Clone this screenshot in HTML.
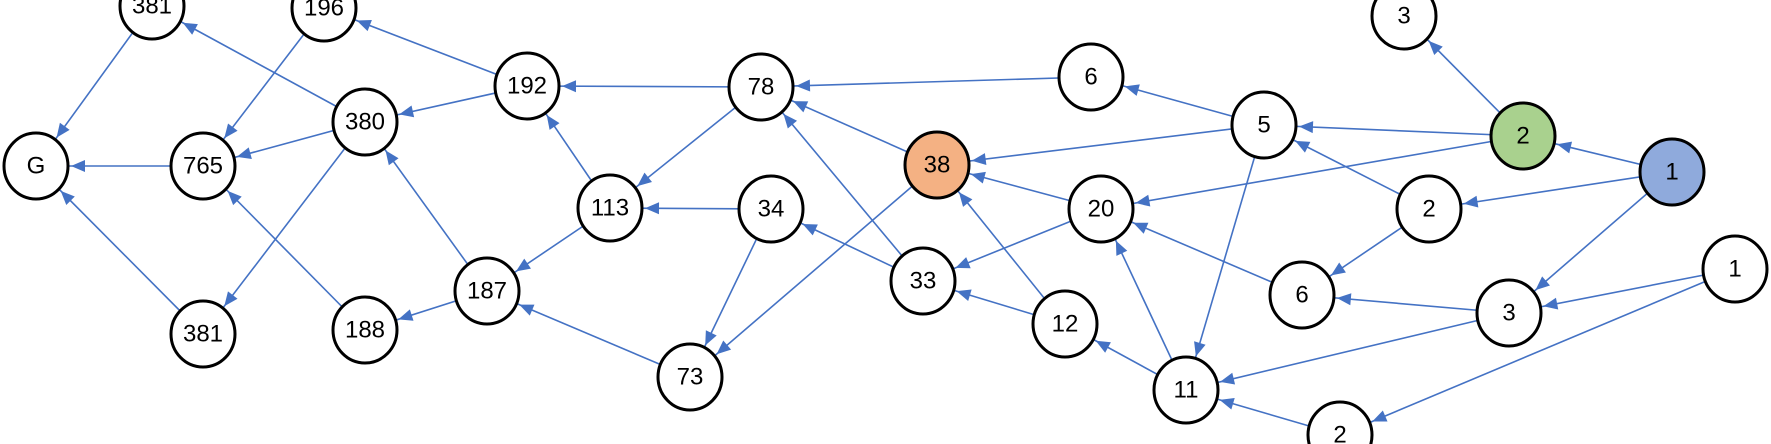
<!DOCTYPE html>
<html><head><meta charset="utf-8"><style>
html,body{margin:0;padding:0;background:#fff;width:1771px;height:444px;overflow:hidden}
svg{display:block}
text{font-family:"Liberation Sans",sans-serif;font-size:24px;fill:#000;text-anchor:middle;dominant-baseline:central}
</style></head><body>
<svg width="1771" height="444" viewBox="0 0 1771 444" xmlns="http://www.w3.org/2000/svg">
<defs>
<marker id="a" markerUnits="userSpaceOnUse" markerWidth="60" markerHeight="14" refX="49" refY="6" orient="auto" overflow="visible">
<path d="M0,0 L14,6 L0,12 z" fill="#4472C4"/>
</marker>
</defs>
<g stroke="#4472C4" stroke-width="1.6" marker-end="url(#a)">
<line x1="152" y1="6" x2="36" y2="166"/>
<line x1="324" y1="8" x2="203" y2="166"/>
<line x1="365" y1="122" x2="152" y2="6"/>
<line x1="527" y1="86" x2="324" y2="8"/>
<line x1="527" y1="86" x2="365" y2="122"/>
<line x1="365" y1="122" x2="203" y2="166"/>
<line x1="203" y1="166" x2="36" y2="166"/>
<line x1="365" y1="122" x2="203" y2="334"/>
<line x1="203" y1="334" x2="36" y2="166"/>
<line x1="365" y1="330" x2="203" y2="166"/>
<line x1="487" y1="291" x2="365" y2="122"/>
<line x1="487" y1="291" x2="365" y2="330"/>
<line x1="610" y1="208" x2="487" y2="291"/>
<line x1="610" y1="208" x2="527" y2="86"/>
<line x1="761" y1="87" x2="527" y2="86"/>
<line x1="761" y1="87" x2="610" y2="208"/>
<line x1="771" y1="209" x2="610" y2="208"/>
<line x1="771" y1="209" x2="690" y2="377"/>
<line x1="690" y1="377" x2="487" y2="291"/>
<line x1="1091" y1="77" x2="761" y2="87"/>
<line x1="937" y1="165" x2="761" y2="87"/>
<line x1="923" y1="281" x2="761" y2="87"/>
<line x1="937" y1="165" x2="690" y2="377"/>
<line x1="923" y1="281" x2="771" y2="209"/>
<line x1="1101" y1="209" x2="937" y2="165"/>
<line x1="1101" y1="209" x2="923" y2="281"/>
<line x1="1065" y1="324" x2="937" y2="165"/>
<line x1="1065" y1="324" x2="923" y2="281"/>
<line x1="1186" y1="390" x2="1065" y2="324"/>
<line x1="1186" y1="390" x2="1101" y2="209"/>
<line x1="1264" y1="125" x2="937" y2="165"/>
<line x1="1264" y1="125" x2="1091" y2="77"/>
<line x1="1264" y1="125" x2="1186" y2="390"/>
<line x1="1523" y1="136" x2="1264" y2="125"/>
<line x1="1523" y1="136" x2="1101" y2="209"/>
<line x1="1523" y1="136" x2="1404" y2="16"/>
<line x1="1672" y1="172" x2="1523" y2="136"/>
<line x1="1672" y1="172" x2="1429" y2="209"/>
<line x1="1672" y1="172" x2="1509" y2="313"/>
<line x1="1429" y1="209" x2="1264" y2="125"/>
<line x1="1429" y1="209" x2="1302" y2="295"/>
<line x1="1302" y1="295" x2="1101" y2="209"/>
<line x1="1509" y1="313" x2="1302" y2="295"/>
<line x1="1509" y1="313" x2="1186" y2="390"/>
<line x1="1735" y1="269" x2="1509" y2="313"/>
<line x1="1735" y1="269" x2="1340" y2="435"/>
<line x1="1340" y1="435" x2="1186" y2="390"/>
</g>
<g stroke="#000" stroke-width="3" fill="#fff">
<ellipse cx="152" cy="6" rx="32" ry="33"/>
<ellipse cx="324" cy="8" rx="32" ry="33"/>
<ellipse cx="527" cy="86" rx="32" ry="33"/>
<ellipse cx="365" cy="122" rx="32" ry="33"/>
<ellipse cx="36" cy="166" rx="32" ry="33"/>
<ellipse cx="203" cy="166" rx="32" ry="33"/>
<ellipse cx="610" cy="208" rx="32" ry="33"/>
<ellipse cx="487" cy="291" rx="32" ry="33"/>
<ellipse cx="203" cy="334" rx="32" ry="33"/>
<ellipse cx="365" cy="330" rx="32" ry="33"/>
<ellipse cx="761" cy="87" rx="32" ry="33"/>
<ellipse cx="771" cy="209" rx="32" ry="33"/>
<ellipse cx="690" cy="377" rx="32" ry="33"/>
<ellipse cx="923" cy="281" rx="32" ry="33"/>
<ellipse cx="937" cy="165" rx="32" ry="33" fill="#F4B183"/>
<ellipse cx="1091" cy="77" rx="32" ry="33"/>
<ellipse cx="1101" cy="209" rx="32" ry="33"/>
<ellipse cx="1065" cy="324" rx="32" ry="33"/>
<ellipse cx="1186" cy="390" rx="32" ry="33"/>
<ellipse cx="1264" cy="125" rx="32" ry="33"/>
<ellipse cx="1523" cy="136" rx="32" ry="33" fill="#A9D18E"/>
<ellipse cx="1404" cy="16" rx="32" ry="33"/>
<ellipse cx="1672" cy="172" rx="32" ry="33" fill="#8FAADC"/>
<ellipse cx="1429" cy="209" rx="32" ry="33"/>
<ellipse cx="1302" cy="295" rx="32" ry="33"/>
<ellipse cx="1509" cy="313" rx="32" ry="33"/>
<ellipse cx="1735" cy="269" rx="32" ry="33"/>
<ellipse cx="1340" cy="435" rx="32" ry="33"/>
</g>
<g>
<text x="152" y="6">381</text>
<text x="324" y="8">196</text>
<text x="527" y="86">192</text>
<text x="365" y="122">380</text>
<text x="36" y="166">G</text>
<text x="203" y="166">765</text>
<text x="610" y="208">113</text>
<text x="487" y="291">187</text>
<text x="203" y="334">381</text>
<text x="365" y="330">188</text>
<text x="761" y="87">78</text>
<text x="771" y="209">34</text>
<text x="690" y="377">73</text>
<text x="923" y="281">33</text>
<text x="937" y="165">38</text>
<text x="1091" y="77">6</text>
<text x="1101" y="209">20</text>
<text x="1065" y="324">12</text>
<text x="1186" y="390">11</text>
<text x="1264" y="125">5</text>
<text x="1523" y="136">2</text>
<text x="1404" y="16">3</text>
<text x="1672" y="172">1</text>
<text x="1429" y="209">2</text>
<text x="1302" y="295">6</text>
<text x="1509" y="313">3</text>
<text x="1735" y="269">1</text>
<text x="1340" y="435">2</text>
</g>
</svg>
</body></html>
